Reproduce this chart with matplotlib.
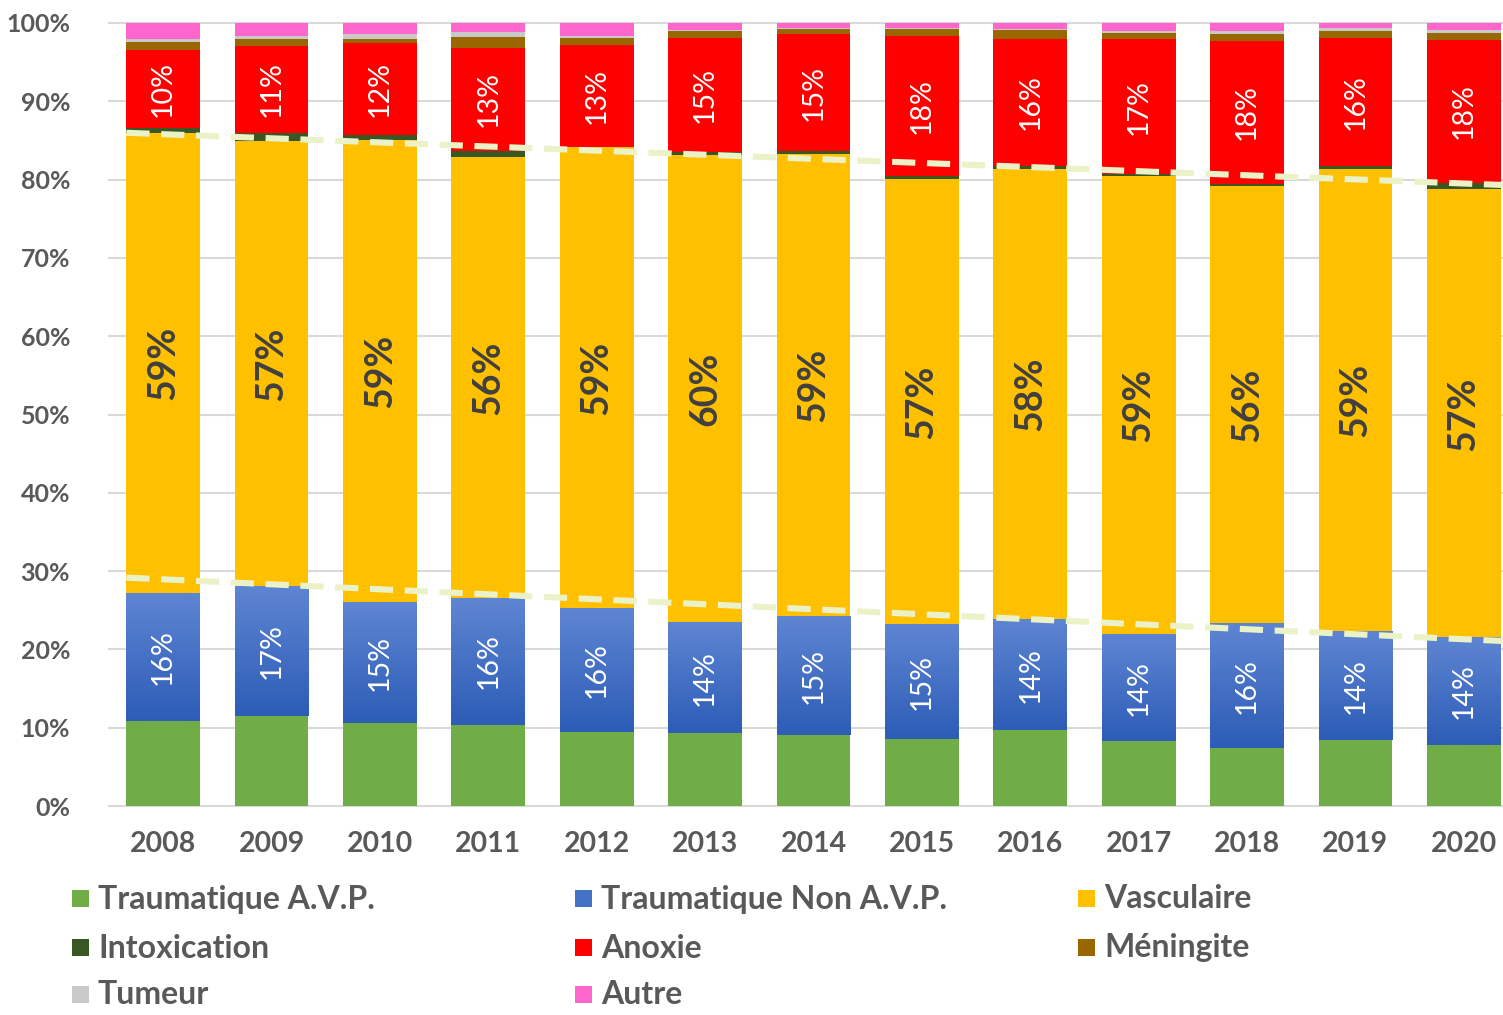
import matplotlib.pyplot as plt
import numpy as np
from matplotlib.colors import LinearSegmentedColormap
from matplotlib.patches import Rectangle

years = ["2008", "2009", "2010", "2011", "2012", "2013", "2014",
         "2015", "2016", "2017", "2018", "2019", "2020"]

# parts in % of each year, bottom to top
trauma_avp = [10.85, 11.5, 10.6, 10.4, 9.5, 9.3, 9.1, 8.55, 9.7, 8.3, 7.45, 8.4, 7.8]
trauma_non_avp = [16.25, 16.6, 15.4, 16.1, 15.8, 14.1, 15.1, 14.65, 14.1, 13.6, 15.85, 13.9, 13.7]
vasculaire = [58.9, 56.8, 59.1, 56.4, 58.8, 59.8, 59.1, 56.9, 57.6, 58.6, 55.9, 59.1, 57.3]
intoxication = [0.6, 1.0, 0.6, 0.8, 0.1, 0.3, 0.3, 0.3, 0.4, 0.2, 0.3, 0.3, 0.8]
anoxie = [10.0, 11.2, 11.7, 13.1, 13.0, 14.6, 15.0, 17.9, 16.2, 17.2, 18.15, 16.4, 18.25]
meningite = [1.0, 0.9, 0.6, 1.4, 0.9, 0.9, 0.6, 0.9, 1.1, 0.8, 1.0, 0.9, 0.9]
tumeur = [0.3, 0.3, 0.6, 0.6, 0.3, 0.1, 0.1, 0.1, 0.1, 0.3, 0.3, 0.3, 0.3]
autre = [2.1, 1.7, 1.4, 1.2, 1.6, 0.9, 0.7, 0.7, 0.8, 1.0, 1.05, 0.7, 0.95]

# dashed guide lines, value at 2008 and at 2020
trend_low = [28.95, 21.3]
trend_high = [85.8, 79.5]

series = [
    ("Traumatique A.V.P.", trauma_avp, "#70AD47"),
    ("Traumatique Non A.V.P.", trauma_non_avp, "#4472C4"),
    ("Vasculaire", vasculaire, "#FFC000"),
    ("Intoxication", intoxication, "#385723"),
    ("Anoxie", anoxie, "#FF0000"),
    ("Méningite", meningite, "#996600"),
    ("Tumeur", tumeur, "#C9C9C9"),
    ("Autre", autre, "#FF66CC"),
]
labelled = {
    "Traumatique Non A.V.P.": dict(color="white", fontsize=20.5, weight="normal"),
    "Vasculaire": dict(color="#404040", fontsize=27, weight="bold"),
    "Anoxie": dict(color="white", fontsize=20.5, weight="normal"),
}

plt.rcParams["font.family"] = ["Lato", "DejaVu Sans"]
grey = "#595959"

fig = plt.figure(figsize=(15.03, 10.15), dpi=100)
ax = fig.add_axes([109 / 1503, 209 / 1015, 1409 / 1503, 783 / 1015])

x = np.arange(len(years))
width = 0.68
bottom = np.zeros(len(years))
blue_cmap = LinearSegmentedColormap.from_list("blue", ["#2D5DB7", "#5E85D2"])

for name, values, color in series:
    values = np.asarray(values)
    bars = ax.bar(x, values, width, bottom=bottom, color=color, linewidth=0, zorder=2)
    if name == "Traumatique Non A.V.P.":
        grad = np.linspace(0, 1, 100).reshape(-1, 1)
        for bar in bars:
            x0, y0 = bar.get_x(), bar.get_y()
            ax.imshow(grad, cmap=blue_cmap, origin="lower", aspect="auto",
                      extent=(x0, x0 + bar.get_width(), y0, y0 + bar.get_height()),
                      zorder=2.5)
    if name in labelled:
        style = labelled[name]
        for xi, b, v in zip(x, bottom, values):
            ax.text(xi, b + v / 2, f"{v:.0f}%", rotation=90, ha="center", va="center",
                    color=style["color"], fontsize=style["fontsize"],
                    fontweight=style["weight"], zorder=4)
    bottom += values

for trend in (trend_low, trend_high):
    xs = np.array([-0.34, 12.5])
    ys = trend[0] + (trend[1] - trend[0]) * xs / 12
    ax.plot(xs, ys, color="#EBF2C8", lw=4.4, dashes=(3.8, 1.9),
            solid_capstyle="butt", zorder=3)

ax.set_xlim(-0.5, 12.5)
ax.set_ylim(0, 100)
ax.set_yticks(np.arange(0, 101, 10))
ax.set_yticklabels([f"{t}%" for t in range(0, 101, 10)])
ax.set_xticks(x)
ax.set_xticklabels(years)
ax.tick_params(axis="both", length=0, colors=grey, labelsize=18)
ax.tick_params(axis="x", pad=18, labelsize=20.5)
ax.tick_params(axis="y", pad=28)
for lab in ax.get_xticklabels() + ax.get_yticklabels():
    lab.set_fontweight("bold")
ax.grid(axis="y", color="#D9D9D9", lw=1.5, zorder=0)
ax.set_axisbelow(True)
for spine in ax.spines.values():
    spine.set_visible(False)
for gl in ax.get_ygridlines():
    gl.set_clip_on(False)

# legend laid out in rows like the source
col_left = [72, 575, 1078]
row_y = [899, 948, 995]
for i, (name, _, color) in enumerate(series):
    r, c = divmod(i, 3)
    lx = col_left[c] / 1503
    ly = 1 - row_y[r] / 1015
    fig.patches.append(Rectangle((lx, ly - 8 / 1015), 17 / 1503, 17 / 1015,
                                 transform=fig.transFigure, facecolor=color,
                                 edgecolor="none"))
    fig.text(lx + 26 / 1503, ly, name, ha="left", va="center", color=grey,
             fontsize=23, fontweight="bold")

fig.savefig("out.png", dpi=100)
